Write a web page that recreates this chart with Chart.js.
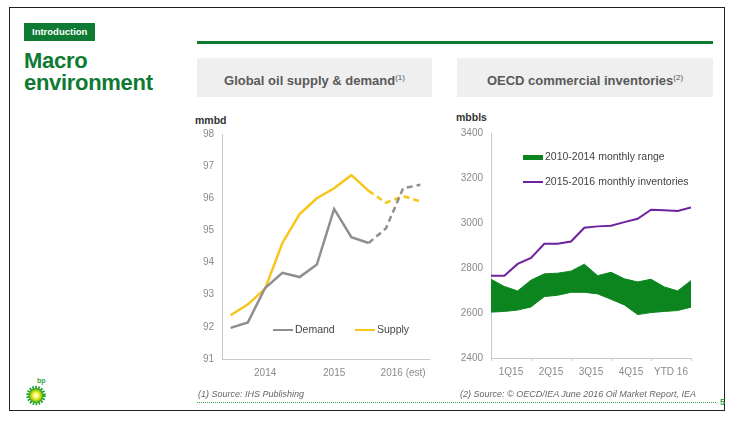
<!doctype html>
<html lang="en">
<head>
  <meta charset="UTF-8">
  <title>Macro environment</title>
  <script src="https://cdn.jsdelivr.net/npm/chart.js"></script>
  <style>
    body {
      margin: 0;
      width: 738px;
      height: 423px;
      background: #fff;
      position: relative;
      overflow: hidden;
      font-family: "Liberation Sans", Arial, sans-serif;
    }
    .abs { position: absolute; }
    #frame {
      left: 9px; top: 7px; width: 716px; height: 404px;
      border: 1.5px solid #222;
      box-sizing: border-box;
    }
    #intro {
      left: 24px; top: 23px; width: 71px; height: 18px;
      background: #0e7a32; color: #fff;
      font-size: 9.5px; font-weight: bold;
      line-height: 18px; padding-left: 8px; box-sizing: border-box;
    }
    #title {
      left: 24px; top: 50px;
      color: #0e7a32; font-size: 22px; font-weight: bold;
      line-height: 22px; letter-spacing: -0.3px;
    }
    #rule {
      left: 197px; top: 41px; width: 516px; height: 2.5px; background: #0e7a32;
    }
    .box {
      top: 58px; height: 39px; background: #efefef;
      color: #595959; font-size: 13px; font-weight: bold;
      line-height: 39px; text-align: center;
    }
    .box sup { font-size: 8px; font-weight: normal; }
    .unit { font-size: 10.5px; font-weight: bold; color: #333; }
    .leg { font-size: 10.5px; color: #444; white-space: nowrap; }
    .legline { display: inline-block; vertical-align: middle; margin-right: 2px; }
    .src { top: 389px; font-size: 9px; font-style: italic; color: #666; }
    #dots {
      left: 197px; top: 402px; width: 519px; border-top: 1px dotted #3aa24a;
    }
    #page { left: 720px; top: 397px; font-size: 9px; color: #3aa24a; font-weight: bold; }
    canvas { position: absolute; }
  </style>
</head>
<body>
  <div class="abs" id="frame"></div>
  <div class="abs" id="intro">Introduction</div>
  <div class="abs" id="title">Macro<br>environment</div>
  <div class="abs" id="rule"></div>
  <div class="abs box" style="left:197px;width:235px">Global oil supply &amp; demand<sup>(1)</sup></div>
  <div class="abs box" style="left:457px;width:256px">OECD commercial inventories<sup>(2)</sup></div>

  <div class="abs unit" style="left:195px;top:114px">mmbd</div>
  <div class="abs unit" style="left:456px;top:111px">mbbls</div>

  <canvas id="chart_supply" width="250" height="280" style="left:190px;top:110px"></canvas>
  <canvas id="chart_inv" width="250" height="280" style="left:450px;top:110px"></canvas>

  <div class="abs leg" id="leg_demand" style="left:273px;top:323px"></div>
  <div class="abs leg" id="leg_supply" style="left:355px;top:323px"></div>
  <div class="abs leg" id="leg_range" style="left:523px;top:150px"></div>
  <div class="abs leg" id="leg_inv" style="left:523px;top:175px"></div>

  <div class="abs src" style="left:198px">(1) Source: IHS Publishing</div>
  <div class="abs src" style="left:460px">(2) Source: © OECD/IEA June 2016 Oil Market Report, IEA</div>
  <div class="abs" id="dots"></div>
  <div class="abs" id="page">5</div>

  <svg class="abs" style="left:24px;top:376px" width="26" height="32" viewBox="0 0 26 32">
    <defs>
      <radialGradient id="sun" cx="50%" cy="50%" r="50%">
        <stop offset="0%" stop-color="#ffffff"/>
        <stop offset="35%" stop-color="#fff35a"/>
        <stop offset="65%" stop-color="#b7d80f"/>
        <stop offset="100%" stop-color="#1a9b2a"/>
      </radialGradient>
    </defs>
    <text x="13" y="7" font-size="7" font-weight="bold" fill="#3aa24a" font-family="Liberation Sans, Arial">bp</text>
    <circle cx="12" cy="19.5" r="8.2" fill="none" stroke="#1a9b2a" stroke-width="3" stroke-dasharray="1.6 1.3"/>
    <circle cx="12" cy="19.5" r="7.5" fill="url(#sun)"/>
  </svg>

  <script type="application/javascript">
    // Global oil supply & demand, quarterly, mmbd
    const years = ['', '', '2014', '', '', '', '2015', '', '', '', '2016 (est)', '']
    const demand = [91.97, 92.14, 93.21, 93.68, 93.55, 93.94, 95.67, 94.79, 94.61, 95.06, 96.31, 96.42]
    const supply = [92.36, 92.70, 93.19, 94.61, 95.51, 96.00, 96.31, 96.72, 96.23, 95.86, 96.07, 95.90]
    const estFrom = 8  // dashed from this index on

    // OECD commercial inventories, monthly, mbbls
    const quarters = ['1Q15', '2Q15', '3Q15', '4Q15', 'YTD 16']
    const rangeLow = [2604, 2607, 2613, 2627, 2673, 2679, 2692, 2692, 2685, 2661, 2636, 2593, 2602, 2607, 2611, 2626]
    const rangeHigh = [2750, 2718, 2698, 2746, 2774, 2777, 2786, 2817, 2766, 2781, 2752, 2738, 2750, 2716, 2698, 2744]
    const inventories = [2766, 2766, 2818, 2845, 2908, 2908, 2918, 2979, 2985, 2988, 3004, 3019, 3059, 3057, 3053, 3069]

    const names = {
      demand: 'Demand',
      supply: 'Supply',
      range: '2010-2014 monthly range',
      inv: '2015-2016 monthly inventories'
    }

    const GREY = '#8f8f8f'
    const YELLOW = '#f8c51c'
    const GREEN = '#0d851f'
    const PURPLE = '#6e229f'
    const AXIS = '#c9c9c9'
    const TICK = '#8a8a8a'
    const tickFont = {family: '"Liberation Sans", Arial, sans-serif', size: 10}

    Chart.defaults.animation = false
    Chart.defaults.devicePixelRatio = 1

    const dashed = ctx => ctx.p0DataIndex >= estFrom ? [6, 4] : undefined

    new Chart(document.getElementById('chart_supply'), {
      type: 'line',
      data: {
        labels: years,
        datasets: [{
          label: names.demand,
          data: demand,
          borderColor: GREY,
          borderWidth: 2.5,
          pointRadius: 0,
          tension: 0,
          segment: {borderDash: dashed}
        }, {
          label: names.supply,
          data: supply,
          borderColor: YELLOW,
          borderWidth: 2.5,
          pointRadius: 0,
          tension: 0,
          segment: {borderDash: dashed}
        }]
      },
      options: {
        responsive: false,
        layout: {padding: {top: 24, right: 11, left: 0, bottom: 0}},
        plugins: {legend: {display: false}, tooltip: {enabled: false}},
        scales: {
          x: {
            offset: true,
            grid: {display: false, drawTicks: false},
            border: {color: AXIS, width: 1},
            ticks: {autoSkip: false, maxRotation: 0, color: TICK, font: tickFont, padding: 8},
            afterFit: s => { s.height = 31 }
          },
          y: {
            min: 91,
            max: 98,
            grid: {display: false, drawTicks: false},
            border: {color: AXIS, width: 1},
            ticks: {stepSize: 1, color: TICK, font: tickFont, padding: 8},
            afterFit: s => { s.width = 32 }
          }
        }
      }
    })

    new Chart(document.getElementById('chart_inv'), {
      type: 'line',
      data: {
        datasets: [{
          label: 'low',
          data: rangeLow.map((v, i) => ({x: i, y: v})),
          borderColor: GREEN,
          borderWidth: 1,
          pointRadius: 0,
          fill: false
        }, {
          label: names.range,
          data: rangeHigh.map((v, i) => ({x: i, y: v})),
          borderColor: GREEN,
          backgroundColor: GREEN,
          borderWidth: 1,
          pointRadius: 0,
          fill: '-1'
        }, {
          label: names.inv,
          data: inventories.map((v, i) => ({x: i, y: v})),
          borderColor: PURPLE,
          borderWidth: 2,
          pointRadius: 0,
          fill: false
        }]
      },
      options: {
        responsive: false,
        layout: {padding: {top: 23, right: 9, left: 0, bottom: 0}},
        plugins: {legend: {display: false}, tooltip: {enabled: false}},
        scales: {
          x: {
            type: 'linear',
            min: 0,
            max: inventories.length - 1,
            afterBuildTicks: s => {
              const t = []
              for (let v = 0; v <= inventories.length - 1; v += 1.5) t.push({value: v})
              s.ticks = t
            },
            grid: {
              display: true,
              drawOnChartArea: false,
              drawTicks: true,
              tickLength: 3,
              color: ctx => Number.isInteger(ctx.tick.value) ? AXIS : 'rgba(0,0,0,0)'
            },
            border: {color: AXIS, width: 1},
            ticks: {
              autoSkip: false,
              maxRotation: 0,
              color: TICK,
              font: tickFont,
              padding: 5,
              callback: v => Number.isInteger(v) ? '' : quarters[Math.round((v - 1.5) / 3)]
            },
            afterFit: s => { s.height = 32 }
          },
          y: {
            min: 2400,
            max: 3400,
            grid: {display: false, drawTicks: false},
            border: {color: AXIS, width: 1},
            ticks: {stepSize: 200, color: TICK, font: tickFont, padding: 8, callback: v => String(v)},
            afterFit: s => { s.width = 41 }
          }
        }
      }
    })

    // legends
    const legLine = (el, color, w, h, text) => {
      el.innerHTML = `<span class="legline" style="width:${w}px;height:${h}px;background:${color}"></span>${text}`
    }
    legLine(document.getElementById('leg_demand'), GREY, 20, 2.5, names.demand)
    legLine(document.getElementById('leg_supply'), YELLOW, 20, 2.5, names.supply)
    legLine(document.getElementById('leg_range'), GREEN, 20, 5, names.range)
    legLine(document.getElementById('leg_inv'), PURPLE, 20, 2, names.inv)
  </script>
</body>
</html>
